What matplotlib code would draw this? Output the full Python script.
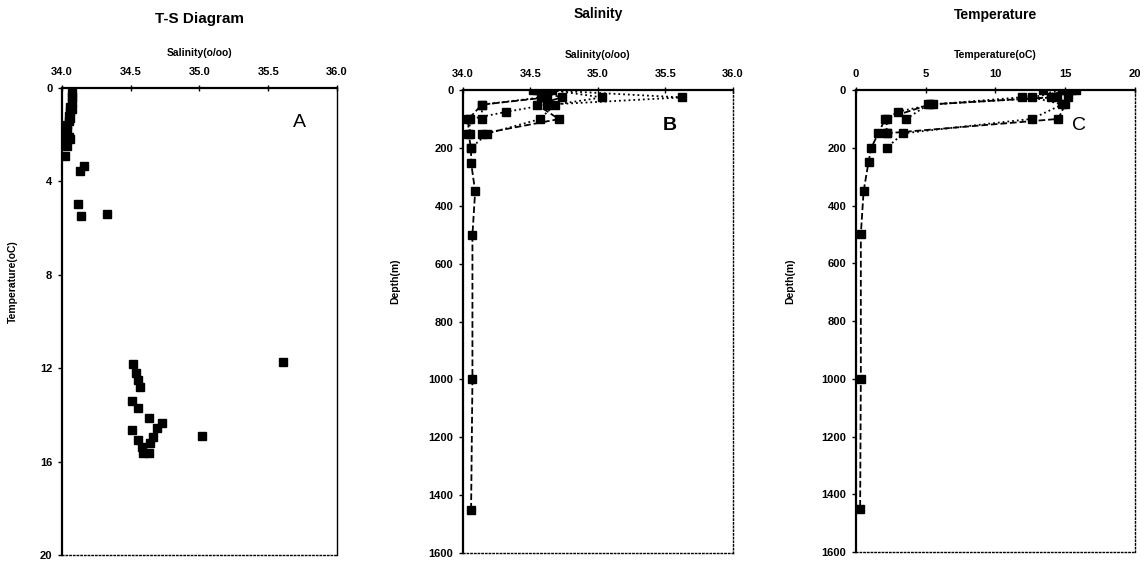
import matplotlib
matplotlib.use("Agg")
import matplotlib.pyplot as plt

plt.rcParams['font.family'] = ['Liberation Sans', 'DejaVu Sans']

# T-S diagram points (salinity, temperature)
ts_sal = [34.07, 34.07, 34.07, 34.06, 34.07, 34.06, 34.05, 34.06, 34.05, 34.04, 34.04, 34.03, 34.05,
          34.06, 34.03, 34.04, 34.02,
          34.16, 34.13, 34.12, 34.14, 34.33,
          34.52, 34.54, 34.55, 34.57, 34.51, 34.55, 34.635, 34.725, 34.69, 34.51, 34.66,
          34.55, 34.64, 34.58, 34.59, 34.63, 35.02, 35.61]
ts_temp = [0.2, 0.4, 0.6, 0.8, 0.9, 1.0, 1.2, 1.3, 1.4, 1.6, 1.8, 2.0, 2.1,
           2.2, 2.3, 2.5, 2.9,
           3.35, 3.55, 4.95, 5.5, 5.4,
           11.8, 12.2, 12.5, 12.8, 13.4, 13.7, 14.15, 14.33, 14.57, 14.65, 14.93,
           15.07, 15.2, 15.36, 15.64, 15.64, 14.9, 11.75]

# station profiles
st1_depth = [0, 25, 50, 100, 150, 200, 250, 350, 500, 1000, 1450]
st1_sal = [34.58, 34.62, 34.14, 34.04, 34.04, 34.06, 34.06, 34.09, 34.07, 34.07, 34.06]
st1_temp = [13.4, 14.0, 5.3, 2.1, 1.6, 1.1, 0.9, 0.55, 0.35, 0.35, 0.3]

st2_depth = [0, 25, 50, 75, 100, 150]
st2_sal = [34.62, 35.62, 34.62, 34.32, 34.05, 34.05]
st2_temp = [15.0, 11.9, 5.5, 3.0, 2.2, 2.2]

st3_depth = [0, 25, 50, 100, 150, 200]
st3_sal = [34.66, 35.03, 34.68, 34.57, 34.18, 34.06]
st3_temp = [15.5, 12.6, 14.8, 12.6, 3.4, 2.2]

st4_depth = [0, 25, 50, 100, 150]
st4_sal = [34.55, 34.73, 34.55, 34.71, 34.14]
st4_temp = [15.8, 15.2, 15.0, 14.5, 2.2]

st5_depth = [0, 25, 50, 100]
st5_sal = [34.52, 34.58, 34.14, 34.14]
st5_temp = [14.8, 14.4, 5.2, 3.6]

stations = [(st1_depth, st1_sal, st1_temp, '--'),
            (st2_depth, st2_sal, st2_temp, ':'),
            (st3_depth, st3_sal, st3_temp, ':'),
            (st4_depth, st4_sal, st4_temp, '--'),
            (st5_depth, st5_sal, st5_temp, ':')]

fig = plt.figure(figsize=(11.48, 5.63), dpi=100)

axA = fig.add_axes([0.054, 0.0142, 0.2395, 0.8295])
axB = fig.add_axes([0.4033, 0.0178, 0.2352, 0.822])
axC = fig.add_axes([0.7456, 0.0195, 0.243, 0.8206])

def style(ax):
    ax.xaxis.tick_top()
    ax.xaxis.set_label_position('top')
    ax.invert_yaxis()
    ax.spines['left'].set_linewidth(1.6)
    ax.spines['top'].set_linewidth(1.6)
    for s in ['right', 'bottom']:
        ax.spines[s].set_linewidth(1.0)
        ax.spines[s].set_linestyle(':')
    ax.tick_params(axis='x', direction='inout', length=4, width=1, pad=6, labelsize=8)
    ax.tick_params(axis='y', direction='out', length=3, width=1, pad=4, labelsize=8)
    for lab in ax.get_xticklabels() + ax.get_yticklabels():
        lab.set_fontweight('bold')

# A: T-S diagram
axA.plot(ts_sal, ts_temp, 's', color='black', ms=6)
axA.set_xlim(34.0, 36.0)
axA.set_ylim(0, 20)
axA.set_xticks([34.0, 34.5, 35.0, 35.5, 36.0])
axA.set_xticklabels(['34.0', '34.5', '35.0', '35.5', '36.0'])
axA.set_yticks([0, 4, 8, 12, 16, 20])
style(axA)
axA.spines['right'].set_linestyle('-')
axA.set_xlabel('Salinity(o/oo)', fontsize=7.5, fontweight='bold', labelpad=8)
axA.set_title('T-S Diagram', fontsize=11, fontweight='bold', pad=47)
axA.text(0.865, 0.927, 'A', transform=axA.transAxes, fontsize=14, ha='center', va='center')
fig.text(0.011, 0.5, 'Temperature(oC)', rotation=90, fontsize=7.5, fontweight='bold',
         ha='center', va='center')

# B: salinity profiles
for d, s, t, ls in stations:
    axB.plot(s, d, ls, color='black', lw=1.3)
    axB.plot(s, d, 's', color='black', ms=6)
axB.set_xlim(34.0, 36.0)
axB.set_ylim(0, 1600)
axB.set_xticks([34.0, 34.5, 35.0, 35.5, 36.0])
axB.set_xticklabels(['34.0', '34.5', '35.0', '35.5', '36.0'])
axB.set_yticks(range(0, 1601, 200))
style(axB)
axB.set_xlabel('Salinity(o/oo)', fontsize=7.5, fontweight='bold', labelpad=8)
axB.set_title('Salinity', fontsize=10, fontweight='bold', pad=52)
axB.text(0.767, 0.924, 'B', transform=axB.transAxes, fontsize=14, fontweight='bold',
         ha='center', va='center')
fig.text(0.344, 0.5, 'Depth(m)', rotation=90, fontsize=7.5, fontweight='bold',
         ha='center', va='center')

# C: temperature profiles
for d, s, t, ls in stations:
    axC.plot(t, d, ls, color='black', lw=1.3)
    axC.plot(t, d, 's', color='black', ms=6)
axC.set_xlim(0, 20)
axC.set_ylim(0, 1600)
axC.set_xticks([0, 5, 10, 15, 20])
axC.set_yticks(range(0, 1601, 200))
style(axC)
axC.set_xlabel('Temperature(oC)', fontsize=7.5, fontweight='bold', labelpad=8)
axC.set_title('Temperature', fontsize=10, fontweight='bold', pad=51)
axC.text(0.80, 0.924, 'C', transform=axC.transAxes, fontsize=14, ha='center', va='center')
fig.text(0.688, 0.5, 'Depth(m)', rotation=90, fontsize=7.5, fontweight='bold',
         ha='center', va='center')

fig.savefig('out.png', dpi=100)
